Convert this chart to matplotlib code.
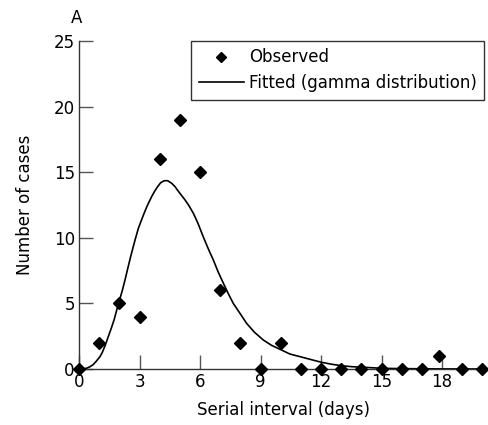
import matplotlib.pyplot as plt

# observed cases by serial interval (days)
obs_days = [0, 1, 2, 3, 4, 5, 6, 7, 8, 9, 10, 11, 12, 13, 14, 15, 16, 17, 17.85, 19, 20]
obs_cases = [0, 2, 5, 4, 16, 19, 15, 6, 2, 0, 2, 0, 0, 0, 0, 0, 0, 0, 1, 0, 0]

# fitted gamma curve
fit_days = [0, 0.2, 0.4, 0.55, 0.7, 0.85, 1.04, 1.15, 1.3, 1.45, 1.6, 1.75, 1.87, 2.0,
            2.15, 2.28, 2.4, 2.55, 2.69, 2.8, 2.95, 3.1, 3.25, 3.4, 3.6, 3.75, 3.9,
            4.05, 4.23, 4.4, 4.6, 4.76, 4.9, 5.05, 5.26, 5.45, 5.67, 5.9, 6.16, 6.4,
            6.66, 6.9, 7.16, 7.4, 7.65, 8.0, 8.31, 8.7, 9.14, 9.55, 9.97, 10.46, 10.96,
            11.5, 12.03, 12.5, 13.02, 13.5, 14.1, 15.07, 16, 17, 18, 19, 20.3]
fit_cases = [0, 0.01, 0.07, 0.18, 0.33, 0.58, 0.94, 1.25, 1.8, 2.46, 3.1, 3.8, 4.5, 5.2,
             6.0, 6.78, 7.55, 8.5, 9.32, 9.95, 10.75, 11.36, 11.95, 12.5, 13.13, 13.55,
             13.9, 14.2, 14.35, 14.35, 14.15, 13.9, 13.6, 13.3, 12.88, 12.45, 11.87,
             11.1, 10.08, 9.2, 8.31, 7.4, 6.53, 5.75, 5.0, 4.2, 3.48, 2.8, 2.21, 1.8,
             1.5, 1.14, 0.94, 0.72, 0.51, 0.37, 0.25, 0.18, 0.13, 0.05, 0.03, 0.015,
             0.008, 0.004, 0.002]

x_ticks = [0, 3, 6, 9, 12, 15, 18]
y_ticks = [0, 5, 10, 15, 20, 25]

plt.rcParams['font.family'] = ['DejaVu Sans']

fig = plt.figure(figsize=(4.88, 4.25), dpi=100)
ax = fig.add_axes([79 / 488, 56 / 425, 409 / 488, 328 / 425])

ax.plot(fit_days, fit_cases, color='black', lw=1.2, label='Fitted (gamma distribution)',
        clip_on=False, zorder=2)
ax.plot(obs_days, obs_cases, linestyle='none', marker='D', color='black', markersize=5.8,
        label='Observed', clip_on=False, zorder=3)

ax.set_xlim(0, 20.28)
ax.set_ylim(0, 25)
ax.set_xticks(x_ticks)
ax.set_yticks(y_ticks)

for side in ['top', 'right']:
    ax.spines[side].set_visible(False)
for side in ['left', 'bottom']:
    ax.spines[side].set_color('#333333')
    ax.spines[side].set_linewidth(1.0)

ax.tick_params(direction='in', length=10, width=1.0, color='#555555',
               labelsize=12, pad=3)

ax.set_xlabel('Serial interval (days)', fontsize=12, labelpad=7)
ax.set_ylabel('Number of cases', fontsize=12, labelpad=14)
fig.text(77 / 488, 1 - 18 / 425, 'A', fontsize=12, ha='center', va='center')

handles, labels = ax.get_legend_handles_labels()
leg = ax.legend(handles[::-1], labels[::-1], loc='upper right',
                bbox_to_anchor=(405 / 409, 1.0), frameon=True, fancybox=False,
                fontsize=12, handlelength=2.7, handletextpad=0.3,
                borderpad=0.45, labelspacing=0.45, borderaxespad=0.0,
                markerscale=0.9)
leg.get_frame().set_edgecolor('black')
leg.get_frame().set_linewidth(1.0)

fig.savefig('out.png', dpi=100)
